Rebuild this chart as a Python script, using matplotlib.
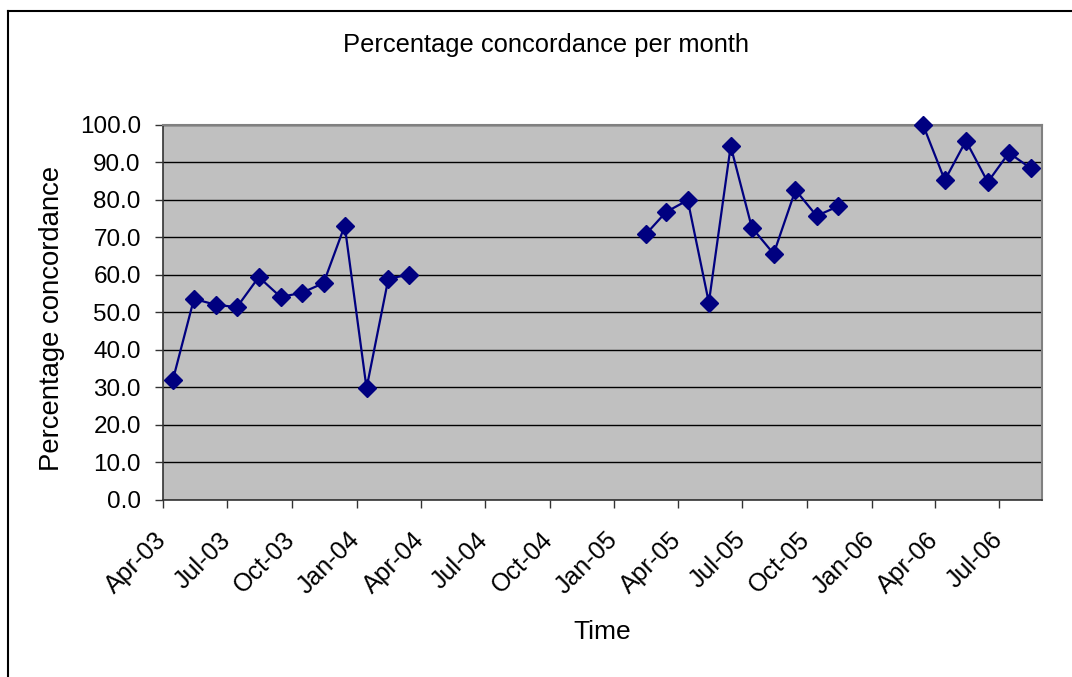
import matplotlib
matplotlib.use("Agg")
import matplotlib.pyplot as plt
import matplotlib.transforms as mtransforms
import numpy as np
import pandas as pd
from matplotlib.lines import Line2D

plt.rcParams['font.family'] = ['Liberation Sans', 'DejaVu Sans']

# Monthly observations (mid-month); NaN = no data that month
months = pd.date_range("2003-04-01", "2006-08-01", freq="MS") + pd.Timedelta(days=14)
concordance = [
    32.0, 53.6, 52.0, 51.4, 59.4, 54.1, 55.2, 57.8, 73.1, 29.8, 59.0, 60.0,   # Apr-03 .. Mar-04
    np.nan, np.nan, np.nan, np.nan, np.nan, np.nan, np.nan, np.nan, np.nan, np.nan,  # Apr-04 .. Jan-05
    70.9, 76.7, 79.9, 52.6, 94.3, 72.6, 65.6, 82.6, 75.7, 78.3,               # Feb-05 .. Nov-05
    np.nan, np.nan, np.nan,                                                   # Dec-05 .. Feb-06
    100.0, 85.2, 95.7, 84.7, 92.5, 88.4,                                      # Mar-06 .. Aug-06
]
tick_dates = pd.date_range("2003-04-01", "2006-07-01", freq="3MS")
y_ticks = np.arange(0, 101, 10)

title = "Percentage concordance per month"
x_label = "Time"
y_label = "Percentage concordance"

W, H = 1072, 677
fig = plt.figure(figsize=(W / 100, H / 100), dpi=100)
ax = fig.add_axes([163 / W, 1 - 500 / H, (1042 - 163) / W, (500 - 124.7) / H])

ax.set_facecolor("#C0C0C0")
ax.plot(months, concordance, color="#000080", lw=1.6, marker="D", markersize=9,
        markerfacecolor="#000080", markeredgecolor="#000080", zorder=3, clip_on=False)

ax.set_xlim(pd.Timestamp("2003-04-01"), pd.Timestamp("2006-08-31"))
ax.set_ylim(0, 100)
ax.set_yticks(y_ticks)
ax.set_yticklabels([f"{v:.1f}" for v in y_ticks])
ax.set_xticks(tick_dates)
ax.set_xticklabels([d.strftime("%b-%y") for d in tick_dates], rotation=45,
                   ha="right", va="top", rotation_mode="anchor")
ax.yaxis.grid(True, color="black", lw=1.0)
ax.set_axisbelow(True)

ax.tick_params(axis="both", length=6, width=1.0, color="#333333", direction="out")
ax.tick_params(axis="x", pad=14, labelsize=18)
ax.tick_params(axis="y", pad=10, labelsize=17.5)

offset = mtransforms.ScaledTranslation(-9 / 100, 0, fig.dpi_scale_trans)
for lbl in ax.get_xticklabels():
    lbl.set_transform(lbl.get_transform() + offset)

for s in ["top", "right"]:
    ax.spines[s].set_color("#808080")
    ax.spines[s].set_linewidth(1.5)
for s in ["left", "bottom"]:
    ax.spines[s].set_color("#333333")
    ax.spines[s].set_linewidth(1.2)

fig.text(546 / W, 1 - 45 / H, title, ha="center", va="center", fontsize=18.4)
fig.text(602 / W, 1 - 632 / H, x_label, ha="center", va="center", fontsize=19)
fig.text(52 / W, 1 - 318 / H, y_label, ha="center", va="center", rotation=90, fontsize=19.8)

# outer chart border (left and top edges)
fig.add_artist(Line2D([8 / W, 8 / W], [0, 1 - 11 / H], transform=fig.transFigure, color="black", lw=1.5))
fig.add_artist(Line2D([8 / W, 1], [1 - 11 / H, 1 - 11 / H], transform=fig.transFigure, color="black", lw=1.5))

fig.savefig("out.png", dpi=100)
